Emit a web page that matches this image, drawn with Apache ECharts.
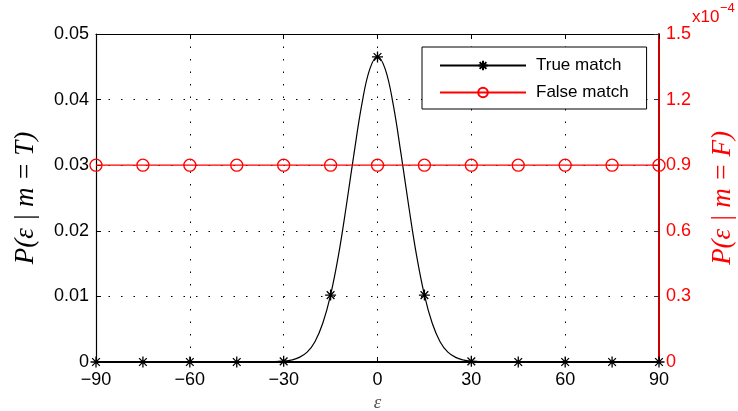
<!DOCTYPE html>
<html>
<head>
<meta charset="utf-8">
<script src="https://cdn.jsdelivr.net/npm/echarts@6/dist/echarts.min.js"></script>
<style>
  html, body { margin: 0; padding: 0; background: #fff; }
  #chart { width: 738px; height: 411px; }
</style>
</head>
<body>
<div id="chart"></div>
<script>
// true match curve (markers only every 15)
const trueX = [-90, -75, -60, -45, -30, -27.5, -25, -22.5, -20, -17.5, -15, -12.5, -10, -7.5, -5, -2.5,
  0, 2.5, 5, 7.5, 10, 12.5, 15, 17.5, 20, 22.5, 25, 27.5, 30, 45, 60, 75, 90];
const trueY = [0, 0, 0, 0, 0.0001, 0.0003, 0.0007, 0.0015, 0.0031, 0.0059, 0.0102, 0.0162, 0.0237, 0.0318, 0.0393, 0.0446,
  0.0465, 0.0446, 0.0393, 0.0318, 0.0237, 0.0162, 0.0102, 0.0059, 0.0031, 0.0015, 0.0007, 0.0003, 0.0001, 0, 0, 0, 0];
const markerX = [-90, -75, -60, -45, -30, -15, 0, 15, 30, 45, 60, 75, 90];

// false match, right axis in units of 1e-4
const falseX = [-90, -75, -60, -45, -30, -15, 0, 15, 30, 45, 60, 75, 90];
const falseY = [0.9, 0.9, 0.9, 0.9, 0.9, 0.9, 0.9, 0.9, 0.9, 0.9, 0.9, 0.9, 0.9];

const seriesNames = ["True match", "False match"];

const chart = echarts.init(document.getElementById("chart"));

const sans = "Liberation Sans";
const serif = "Liberation Serif";
const red = "#ff0000";
const star = "path://M0,-6L0,6M-6,0L6,0M-4.2,-4.2L4.2,4.2M-4.2,4.2L4.2,-4.2";
const dots = [1.5, 11];

const trueData = trueX.map((x, i) => {
  const item = { value: [x, trueY[i]] };
  if (markerX.indexOf(x) < 0) item.symbol = "none";
  return item;
});

const option = {
  animation: false,
  grid: { left: 96, right: 79, top: 34, bottom: 49, outerBoundsMode: "none" },
  legend: {
    orient: "vertical",
    left: 422,
    top: 47,
    padding: [10, 18, 8, 17],
    itemGap: 10,
    itemWidth: 86,
    itemHeight: 12,
    borderColor: "#000",
    borderWidth: 1,
    backgroundColor: "#fff",
    textStyle: { fontFamily: sans, fontSize: 17, color: "#000", padding: [0, 0, 0, 5] },
    data: seriesNames,
  },
  xAxis: [
    {
      type: "value",
      min: -90,
      max: 90,
      interval: 30,
      name: "ε",
      nameLocation: "middle",
      nameGap: 28,
      nameTextStyle: { fontFamily: serif, fontStyle: "italic", fontSize: 19, color: "#555" },
      axisLine: { onZero: false, lineStyle: { color: "#000", width: 2 } },
      axisTick: { inside: true, length: 5, lineStyle: { color: "#000" } },
      axisLabel: {
        margin: 9,
        fontFamily: sans,
        fontSize: 18,
        color: "#000",
        formatter: (v) => (v < 0 ? "\u2212" + Math.abs(v) : String(v)),
      },
      splitLine: { show: true, lineStyle: { color: "#000", width: 1, type: dots } },
    },
    {
      type: "value",
      position: "top",
      min: -90,
      max: 90,
      interval: 30,
      axisLine: { show: true, onZero: false, lineStyle: { color: "#000", width: 1.2 } },
      axisTick: { inside: true, length: 5, lineStyle: { color: "#000" } },
      axisLabel: { show: false },
      splitLine: { show: false },
    },
  ],
  yAxis: [
    {
      type: "value",
      min: 0,
      max: 0.05,
      interval: 0.01,
      name: "P(ε | m = T)",
      nameLocation: "middle",
      nameRotate: 90,
      nameGap: 57,
      nameTextStyle: { fontFamily: serif, fontStyle: "italic", fontSize: 27, color: "#000" },
      axisLine: { show: true, onZero: false, lineStyle: { color: "#000", width: 1.2 } },
      axisTick: { show: true, inside: true, length: 5, lineStyle: { color: "#000" } },
      axisLabel: {
        margin: 7,
        fontFamily: sans,
        fontSize: 18,
        color: "#000",
        formatter: (v) => (v === 0 ? "0" : v.toFixed(2)),
      },
      splitLine: { show: true, lineStyle: { color: "#000", width: 1, type: dots } },
    },
    {
      type: "value",
      position: "right",
      min: 0,
      max: 1.5,
      interval: 0.3,
      name: "P(ε | m = F)",
      nameLocation: "middle",
      nameRotate: 90,
      nameGap: 50,
      nameTextStyle: { fontFamily: serif, fontStyle: "italic", fontSize: 27, color: red },
      axisLine: { show: true, onZero: false, lineStyle: { color: "#cc0000", width: 2 } },
      axisTick: { show: true, inside: true, length: 5, lineStyle: { color: "#333" } },
      axisLabel: {
        margin: 7,
        fontFamily: sans,
        fontSize: 18,
        color: red,
        formatter: (v) => (v === 0 ? "0" : v.toFixed(1)),
      },
      splitLine: { show: false },
    },
  ],
  graphic: [
    {
      type: "text",
      left: 692,
      top: 9,
      style: { text: "x10", fill: red, font: "17px 'Liberation Sans'" },
    },
    {
      type: "text",
      left: 720,
      top: 2,
      style: { text: "\u22124", fill: red, font: "13px 'Liberation Sans'" },
    },
  ],
  series: [
    {
      name: seriesNames[0],
      type: "line",
      xAxisIndex: 0,
      yAxisIndex: 0,
      smooth: 0.4,
      showSymbol: true,
      showAllSymbol: true,
      symbol: star,
      symbolSize: 11,
      lineStyle: { color: "#000", width: 1.2 },
      itemStyle: { color: "#000", borderColor: "#000", borderWidth: 1.3 },
      data: trueData,
      z: 3,
    },
    {
      name: seriesNames[1],
      type: "line",
      xAxisIndex: 0,
      yAxisIndex: 1,
      showSymbol: true,
      showAllSymbol: true,
      symbol: "circle",
      symbolSize: 12,
      lineStyle: { color: red, width: 1.2 },
      itemStyle: { color: "rgba(0,0,0,0)", borderColor: red, borderWidth: 1.3 },
      data: falseX.map((x, i) => [x, falseY[i]]),
      z: 4,
    },
  ],
};

chart.setOption(option);
</script>
</body>
</html>
